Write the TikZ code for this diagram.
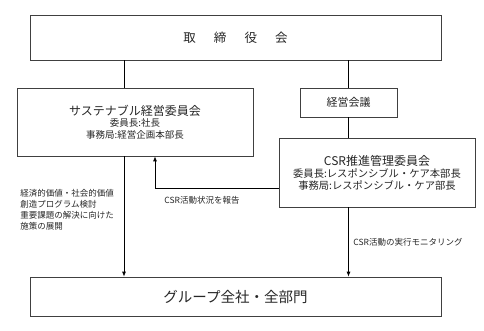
\documentclass[tikz,border=0pt]{standalone}
\usepackage{fontspec}
\setmainfont{Noto Sans CJK JP}
\usetikzlibrary{arrows.meta}

\newcommand{\titlesz}{\fontsize{12}{14}\selectfont}
\newcommand{\subsz}{\fontsize{9.5}{11}\selectfont}
\newcommand{\csrsz}{\fontsize{10.3}{14}\selectfont}

\begin{document}
\begin{tikzpicture}[x=1pt, y=-1pt, line width=0.8pt,
    box/.style={draw=black!75, line width=0.7pt, inner sep=0pt, align=center, text=black!85},
    arr/.style={-{Latex[length=5pt, width=4pt]}},
    lbl/.style={font=\fontsize{8.5}{11}\selectfont, inner sep=0pt, text=black!85}]
    \useasboundingbox (0,0) rectangle (484,331);

    % 取締役会
    \node[box, minimum width=411pt, minimum height=45pt, font=\fontsize{12.5}{14}\selectfont]
        (board) at (235.5,37.5) {取\hspace{1.45em}締\hspace{1.45em}役\hspace{1.45em}会};

    % サステナブル経営委員会
    \node[box, minimum width=236pt, minimum height=68pt] (sus) at (135,122)
        {\titlesz サステナブル経営委員会\\[-1pt]
         \subsz 委員長:社長\\
         \subsz 事務局:経営企画本部長};

    % 経営会議
    \node[box, minimum width=97pt, minimum height=29pt, font=\fontsize{11}{13}\selectfont]
        (exec) at (348.5,102.5) {経営会議};

    % CSR推進管理委員会
    \node[box, minimum width=196pt, minimum height=69pt] (csr) at (377,172.5)
        {\titlesz CSR推進管理委員会\\
         \csrsz 委員長:レスポンシブル・ケア本部長\\
         \csrsz 事務局:レスポンシブル・ケア部長};

    % グループ全社・全部門
    \node[box, minimum width=411pt, minimum height=39pt, font=\fontsize{14.5}{16}\selectfont]
        (group) at (235.5,296.5) {グループ全社・全部門};

    % 縦の線
    \coordinate (lx) at (124,0);
    \coordinate (rx) at (155,188);
    \draw (board.south -| lx) -- (sus.north -| lx);
    \draw (board.south -| exec) -- (exec.north);
    \draw (exec.south) -- (csr.north -| exec);
    \draw[arr] (sus.south -| lx) -- (group.north -| lx);
    \draw[arr] (csr.south -| exec) -- (group.north -| exec);

    % 報告の矢印
    \draw[arr] (csr.west |- rx) -| (sus.south -| rx);

    % ラベル
    \node[lbl, anchor=west] (report) at (164,200) {CSR活動状況を報告};
    \node[lbl, anchor=west] (monitor) at (353,242) {CSR活動の実行モニタリング};
    \node[lbl, anchor=north west, align=left]
        (policy) at (20,189) {経済的価値・社会的価値\\創造プログラム検討\\重要課題の解決に向けた\\施策の展開};
\end{tikzpicture}
\end{document}
